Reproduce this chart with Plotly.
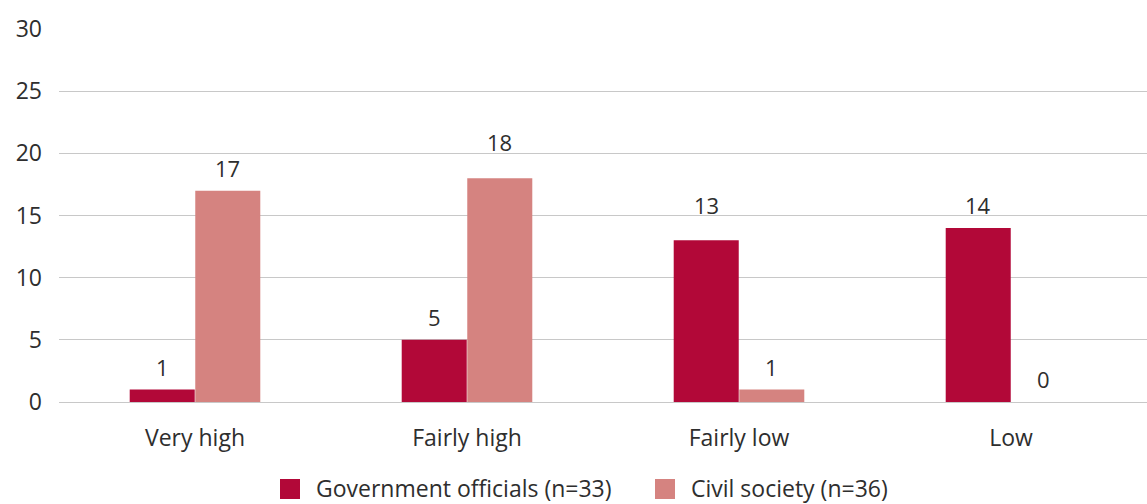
import plotly.graph_objects as go

categories = ["Very high", "Fairly high", "Fairly low", "Low"]
government = [1, 5, 13, 14]
civil_society = [17, 18, 1, 0]
series_names = ["Government officials (n=33)", "Civil society (n=36)"]
colors = ["#B20838", "#D58380"]
y_ticks = [0, 5, 10, 15, 20, 25, 30]

font_family = "Open Sans, Noto Sans, sans-serif"
text_color = "#2E2E2E"

W, H = 1147, 504
M_L, M_R, M_T, M_B = 59, 0, 29, 102
plot_w = W - M_L - M_R
plot_h = H - M_T - M_B
y_max = 30
px_per_unit = plot_h / y_max

fig = go.Figure()
for name, vals, col in zip(series_names, [government, civil_society], colors):
    fig.add_trace(go.Bar(
        x=categories, y=vals, name=name,
        marker=dict(color=col, line=dict(width=0)),
        showlegend=False,
    ))


def label_shift(value):
    """Pixel offset of a value label above its bar, lifted clear of gridlines."""
    gap = 13  # bar top to text baseline
    shift = gap
    for g in y_ticks:
        d = (g - value) * px_per_unit
        if 14 < d < 31:
            shift = d + 1
    return shift


# value labels above each bar (bars in a group are offset left / right)
bar_offset = 32.75
for vals, dx in zip([government, civil_society], [-bar_offset, bar_offset]):
    for cat, v in zip(categories, vals):
        fig.add_annotation(
            x=cat, y=v, text=str(v), showarrow=False,
            xanchor="center", yanchor="bottom",
            xshift=dx, yshift=label_shift(v) - 7,
            font=dict(size=22, color=text_color, family=font_family),
        )

# legend drawn as swatches + labels below the axis


def px_to_paper_x(px):
    return (px - M_L) / plot_w


def px_to_paper_y(py):
    return (H - M_B - py) / plot_h


legend_items = [(280, 314), (655, 689)]
for (sx, tx), name, col in zip(legend_items, series_names, colors):
    fig.add_shape(type="rect", xref="paper", yref="paper",
                  x0=px_to_paper_x(sx), x1=px_to_paper_x(sx + 20),
                  y0=px_to_paper_y(499), y1=px_to_paper_y(479),
                  fillcolor=col, line=dict(width=0))
    fig.add_annotation(xref="paper", yref="paper",
                       x=px_to_paper_x(tx), y=px_to_paper_y(488),
                       xanchor="left", yanchor="middle", showarrow=False,
                       text=name, font=dict(size=23, color=text_color, family=font_family))

fig.update_layout(
    width=W, height=H,
    margin=dict(l=M_L, r=M_R, t=M_T, b=M_B, autoexpand=False),
    paper_bgcolor="white", plot_bgcolor="white",
    font=dict(family=font_family, size=23, color=text_color),
    barmode="group", bargap=0.518, bargroupgap=0.008,
    showlegend=False,
    xaxis=dict(showline=False, ticks="", showgrid=False, ticklabelstandoff=20,
               tickfont=dict(size=23, color=text_color)),
    yaxis=dict(range=[0, y_max], tickvals=y_ticks, showgrid=True, gridcolor="#C8C8C8",
               gridwidth=1, zeroline=True, zerolinecolor="#C8C8C8", zerolinewidth=1,
               ticks="", ticklabelstandoff=16, tickfont=dict(size=23, color=text_color)),
)

fig.write_html("out.html")
